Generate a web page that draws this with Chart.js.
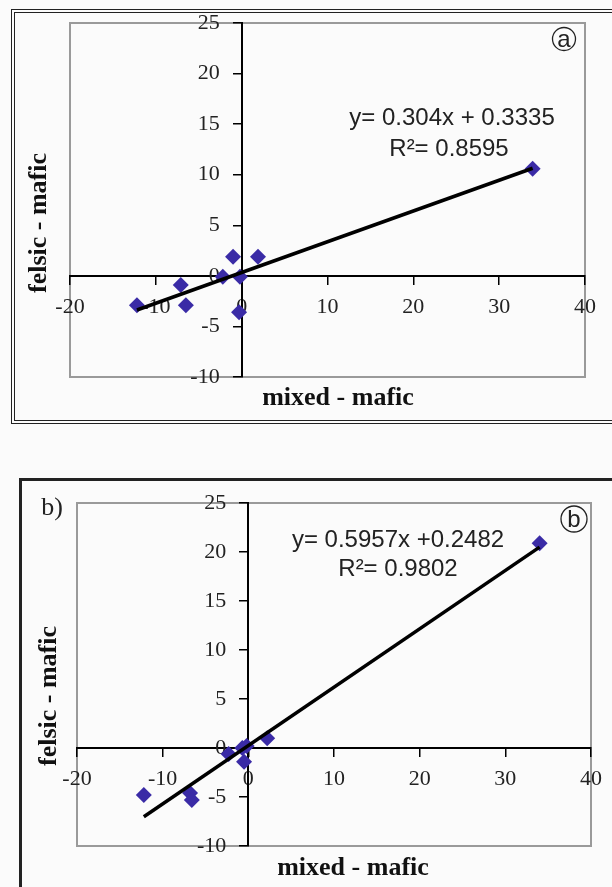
<!DOCTYPE html>
<html>
<head>
<meta charset="utf-8">
<script src="https://cdn.jsdelivr.net/npm/chart.js@4"></script>
<style>
  html, body { margin: 0; padding: 0; background: #fbfbfb; }
  body { width: 612px; height: 887px; overflow: hidden; position: relative; }
  .frame { position: absolute; box-sizing: border-box; }
  #frameA { left: 11px; top: 9px; width: 612px; height: 415px; border: 4px double #222; }
  #frameB { left: 19px; top: 478px; width: 620px; height: 440px; border-left: 3px solid #222; border-top: 3px solid #222; }
  canvas { position: absolute; left: 0; }
  #chartA { top: 0; }
  #chartB { top: 480px; }
</style>
</head>
<body>
<div class="frame" id="frameA"></div>
<div class="frame" id="frameB"></div>
<canvas id="chartA" width="612" height="440"></canvas>
<canvas id="chartB" width="612" height="407"></canvas>
<script>
// axis ticks shared by both panels
var xTicks = [-20, -10, 0, 10, 20, 30, 40];
var yTicks = [-10, -5, 0, 5, 10, 15, 20, 25];

// panel a
var mixedA = [-12.2, -7.1, -6.5, -2.2, -1.0, 1.9, -0.2, -0.3, 33.9];
var felsicA = [-2.9, -0.9, -2.9, -0.1, 1.9, 1.9, -0.1, -3.6, 10.6];
var fitA = [0.304, 0.3335, 0.8595]; // slope, intercept, R²

// panel b
var mixedB = [-12.2, -6.8, -6.6, -2.3, -0.7, -0.2, -0.5, 2.2, 34.0];
var felsicB = [-4.8, -4.6, -5.3, -0.6, 0.0, 0.2, -1.4, 1.0, 20.9];
var fitB = [0.5957, 0.2482, 0.9802];

var markerColor = '#3a2ba6';

// draws the grey plot frame, titles, equation and the panel letters
var decor = {
  id: 'decor',
  beforeDraw: function (chart, args, o) {
    var a = chart.chartArea, ctx = chart.ctx;
    ctx.save();
    ctx.strokeStyle = '#9a9a9a';
    ctx.lineWidth = 2;
    ctx.strokeRect(a.left, a.top, a.right - a.left, a.bottom - a.top);
    ctx.restore();
  },
  afterDraw: function (chart, args, o) {
    var ctx = chart.ctx;
    ctx.save();
    ctx.fillStyle = '#111';
    ctx.textAlign = 'center';
    ctx.textBaseline = 'middle';

    ctx.font = 'bold 26px "Liberation Serif"';
    ctx.fillText('mixed - mafic', o.xTitle[0], o.xTitle[1]);
    ctx.save();
    ctx.translate(o.yTitle[0], o.yTitle[1]);
    ctx.rotate(-Math.PI / 2);
    ctx.fillText('felsic - mafic', 0, 0);
    ctx.restore();

    ctx.font = '24px "Liberation Sans"';
    ctx.fillStyle = '#222';
    ctx.fillText(o.eq, o.eqPos[0], o.eqPos[1]);
    ctx.fillText(o.r2, o.r2Pos[0], o.r2Pos[1]);

    // circled letter
    ctx.beginPath();
    ctx.arc(o.circle[0], o.circle[1], o.circle[2], 0, Math.PI * 2);
    ctx.strokeStyle = '#222';
    ctx.lineWidth = 1.3;
    ctx.stroke();
    ctx.font = '24px "Liberation Sans"';
    ctx.fillText(o.letter, o.circle[0], o.circle[1] + 1);

    if (o.tag) {
      ctx.font = '26px "Liberation Serif"';
      ctx.fillText(o.tag, o.tagPos[0], o.tagPos[1]);
    }
    ctx.restore();
  }
};

function makeChart(id, xs, ys, fit, pad, deco) {
  var pts = xs.map(function (x, i) { return { x: x, y: ys[i] }; });
  var lo = Math.min.apply(null, xs), hi = Math.max.apply(null, xs);
  var line = [lo, hi].map(function (x) { return { x: x, y: fit[0] * x + fit[1] }; });

  var tickFont = { family: 'Liberation Serif', size: 22 };
  return new Chart(document.getElementById(id), {
    type: 'scatter',
    data: {
      datasets: [
        {
          type: 'line',
          data: line,
          borderColor: '#000',
          borderWidth: 3.5,
          pointRadius: 0,
          fill: false
        },
        {
          data: pts,
          pointStyle: 'rectRot',
          pointRadius: 8,
          backgroundColor: markerColor,
          borderColor: markerColor,
          borderWidth: 0
        }
      ]
    },
    options: {
      responsive: false,
      animation: false,
      layout: { padding: pad },
      plugins: {
        legend: { display: false },
        tooltip: { enabled: false },
        decor: deco
      },
      scales: {
        x: {
          type: 'linear',
          position: { y: 0 },
          min: xTicks[0],
          max: xTicks[xTicks.length - 1],
          ticks: { stepSize: 10, font: tickFont, color: '#222', padding: 10, maxRotation: 0 },
          grid: { drawOnChartArea: false, drawTicks: true, tickLength: 8, color: '#000', lineWidth: 1.5 },
          border: { color: '#000', width: 2 }
        },
        y: {
          type: 'linear',
          position: { x: 0 },
          min: yTicks[0],
          max: yTicks[yTicks.length - 1],
          ticks: {
            stepSize: 5, font: tickFont, color: '#222',
            // labels of a centred axis sit flush on the line, push them left
            callback: function (v) { return v + '    '; }
          },
          grid: { drawOnChartArea: false, drawTicks: true, tickLength: 8, color: '#000', lineWidth: 1.5 },
          border: { color: '#000', width: 2 }
        }
      }
    },
    plugins: [decor]
  });
}

makeChart('chartA', mixedA, felsicA, fitA,
  { left: 70, right: 27, top: 23, bottom: 63 },
  {
    xTitle: [338, 398], yTitle: [39, 223],
    eq: 'y= ' + fitA[0] + 'x + ' + fitA[1], eqPos: [452, 118],
    r2: 'R²= ' + fitA[2], r2Pos: [449, 149],
    circle: [564, 39, 11.5], letter: 'a'
  });

makeChart('chartB', mixedB, felsicB, fitB,
  { left: 77, right: 20, top: 23, bottom: 41 },
  {
    xTitle: [353, 388], yTitle: [49, 216],
    eq: 'y= ' + fitB[0] + 'x +' + fitB[1], eqPos: [398, 60],
    r2: 'R²= ' + fitB[2], r2Pos: [398, 89],
    circle: [574, 39, 13], letter: 'b',
    tag: 'b)', tagPos: [52, 28]
  });
</script>
</body>
</html>
